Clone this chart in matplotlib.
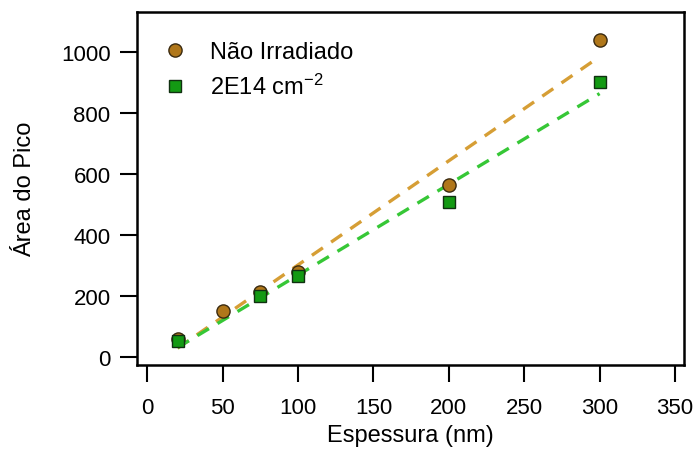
import numpy as np
import matplotlib.pyplot as plt

plt.rcParams['font.family'] = ['Liberation Sans', 'DejaVu Sans']
plt.rcParams['mathtext.fontset'] = 'custom'
plt.rcParams['mathtext.rm'] = 'Liberation Sans'
plt.rcParams['mathtext.it'] = 'Liberation Sans:italic'

# Não Irradiado
x_ni = np.array([20, 50, 75, 100, 200, 300])
y_ni = np.array([60, 150, 215, 280, 565, 1042])

# 2E14 cm^-2
x_ir = np.array([20, 75, 100, 200, 300])
y_ir = np.array([52, 200, 265, 508, 903])

fig = plt.figure(figsize=(6.96, 4.52), dpi=100)
ax = fig.add_axes([0.1968, 0.190, 0.786, 0.781])

# linear fits
p_ni = np.polyfit(x_ni, y_ni, 1)
p_ir = np.polyfit(x_ir, y_ir, 1)
xf_ni = np.array([x_ni.min(), x_ni.max()])
xf_ir = np.array([x_ir.min(), x_ir.max()])
ax.plot(xf_ni, np.polyval(p_ni, xf_ni), color='#D69E35', lw=2.4, ls=(0, (4, 3)), zorder=2)
ax.plot(xf_ir, np.polyval(p_ir, xf_ir), color='#36C736', lw=2.4, ls=(0, (4, 3)), zorder=2)

ax.plot(x_ni, y_ni, 'o', ms=9.5, mfc='#B0771A', mec='#3a2a10', mew=1.0, label='Não Irradiado', zorder=3)
ax.plot(x_ir, y_ir, 's', ms=9, mfc='#139A13', mec='#103010', mew=1.0, label='2E14 cm$^{\\mathrm{-2}}$', zorder=4)

ax.set_xlim(-6.9, 356)
ax.set_ylim(-26, 1132)
ax.set_xticks(np.arange(0, 351, 50))
ax.set_yticks(np.arange(0, 1001, 200))
ax.tick_params(direction='out', length=12, width=1.5, labelsize=16)
ax.tick_params(axis='x', pad=11)
ax.tick_params(axis='y', pad=7)
for s in ax.spines.values():
    s.set_linewidth(1.8)

ax.set_xlabel('Espessura (nm)', fontsize=17, labelpad=4)
ax.set_ylabel('Área do Pico', fontsize=17, labelpad=18)

ax.legend(loc='upper left', frameon=False, fontsize=17, handletextpad=0.78,
          borderaxespad=0.5, labelspacing=0.45, handlelength=1.4,
          bbox_to_anchor=(0.0, 0.977))

fig.savefig('out.png', dpi=100)
